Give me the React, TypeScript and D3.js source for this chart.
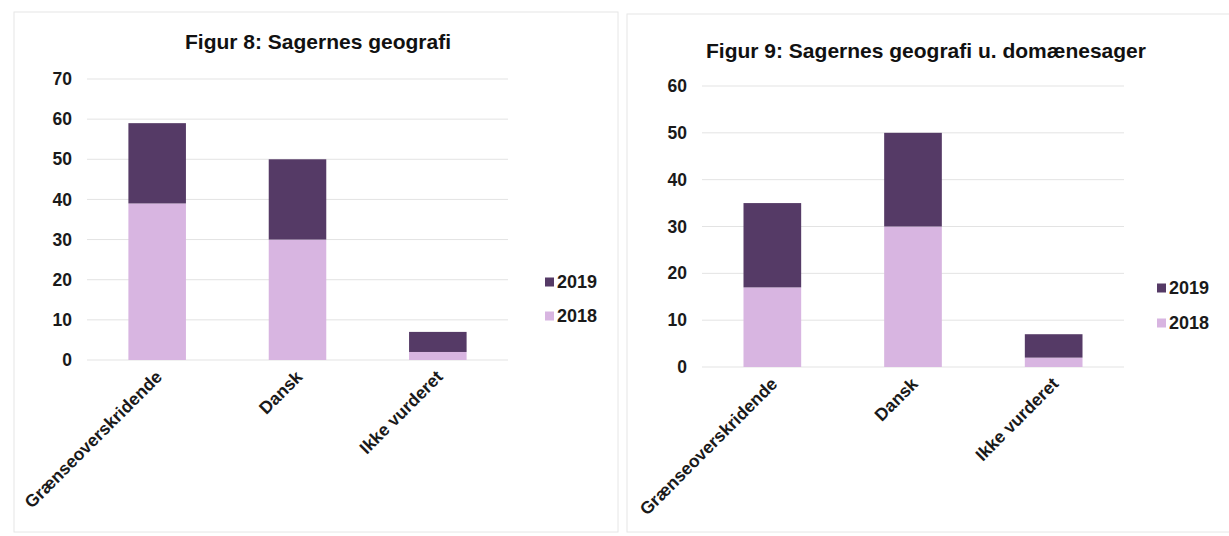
import React from "react";
import * as d3 from "d3";

const categories = ["Grænseoverskridende", "Dansk", "Ikke vurderet"];
const seriesKeys = ["2018", "2019"];
const legendOrder = ["2019", "2018"];

const fig8Values2018 = [39, 30, 2];
const fig8Values2019 = [20, 20, 5];
const fig8Ticks = [0, 10, 20, 30, 40, 50, 60, 70];
const fig8Title = "Figur 8: Sagernes geografi";

const fig9Values2018 = [17, 30, 2];
const fig9Values2019 = [18, 20, 5];
const fig9Ticks = [0, 10, 20, 30, 40, 50, 60];
const fig9Title = "Figur 9: Sagernes geografi u. domænesager";

const colors: Record<string, string> = { "2019": "#553a66", "2018": "#d8b5e1" };
const FONT = "'Liberation Sans', Arial, sans-serif";

type Layout = {
  box: [number, number, number, number];
  x0: number; x1: number; y0: number; yTop: number;
  titleX: number; titleY: number;
  legendX: number; legendY: number; legendGap: number;
};

function Chart({ title, v2018, v2019, ticks, L }: { title: string; v2018: number[]; v2019: number[]; ticks: number[]; L: Layout }) {
  const rows = categories.map((c, i) => ({ cat: c, "2018": v2018[i], "2019": v2019[i] }));
  const stack = d3.stack<any>().keys(seriesKeys)(rows);
  const x = d3.scaleBand<string>().domain(categories).range([L.x0, L.x1]).paddingInner(0.59).paddingOuter(0.295);
  const y = d3.scaleLinear().domain([0, d3.max(ticks) as number]).range([L.y0, L.yTop]);
  return (
    <g>
      <rect x={L.box[0]} y={L.box[1]} width={L.box[2]} height={L.box[3]} fill="none" stroke="#e6e6e6" strokeWidth={1} />
      <text x={L.titleX} y={L.titleY} textAnchor="middle" fontFamily={FONT} fontWeight="bold" fontSize={21} fill="#111">{title}</text>
      {ticks.map((t) => (
        <g key={t}>
          <line x1={L.x0} x2={L.x1} y1={y(t)} y2={y(t)} stroke="#e3e3e3" strokeWidth={1} />
          <text x={L.x0 - 15} y={y(t)} dy="0.35em" textAnchor="end" fontFamily={FONT} fontWeight="bold" fontSize={17.5} fill="#1a1a1a">{t}</text>
        </g>
      ))}
      {stack.map((s) => (
        <g key={s.key} fill={colors[s.key]}>
          {s.map((d, i) => (
            <rect key={i} x={x(categories[i])} width={x.bandwidth()} y={y(d[1])} height={y(d[0]) - y(d[1])} />
          ))}
        </g>
      ))}
      {categories.map((c) => {
        const cx = (x(c) as number) + x.bandwidth() / 2;
        return (
          <text key={c} transform={`translate(${cx + 6},${L.y0 + 18}) rotate(-45)`} textAnchor="end" fontFamily={FONT} fontWeight="bold" fontSize={17.5} fill="#1a1a1a">{c}</text>
        );
      })}
      {legendOrder.map((k, i) => (
        <g key={k} transform={`translate(${L.legendX},${L.legendY + i * L.legendGap})`}>
          <rect x={0} y={-4.5} width={9} height={9} fill={colors[k]} />
          <text x={12} y={0} dy="0.35em" fontFamily={FONT} fontWeight="bold" fontSize={18} fill="#1a1a1a">{k}</text>
        </g>
      ))}
    </g>
  );
}

const leftLayout: Layout = {
  box: [14, 12, 604, 520], x0: 87, x1: 508, y0: 360, yTop: 79,
  titleX: 318, titleY: 49, legendX: 545, legendY: 282, legendGap: 34,
};
const rightLayout: Layout = {
  box: [627, 14, 620, 518], x0: 702, x1: 1124, y0: 367, yTop: 86,
  titleX: 926, titleY: 58, legendX: 1157, legendY: 288, legendGap: 35,
};

export default function App() {
  return (
    <svg width={1229} height={536} style={{ position: "absolute", left: 0, top: 0, background: "#fff" }}>
      <rect x={0} y={0} width={1229} height={536} fill="#fff" />
      <Chart title={fig8Title} v2018={fig8Values2018} v2019={fig8Values2019} ticks={fig8Ticks} L={leftLayout} />
      <Chart title={fig9Title} v2018={fig9Values2018} v2019={fig9Values2019} ticks={fig9Ticks} L={rightLayout} />
    </svg>
  );
}
